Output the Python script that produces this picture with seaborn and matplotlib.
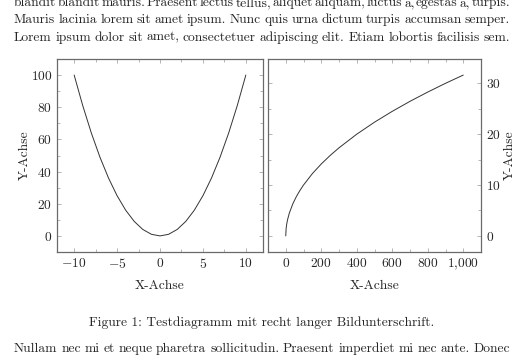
import matplotlib
matplotlib.use('Agg')
import matplotlib.pyplot as plt
import seaborn as sns
from matplotlib.ticker import MultipleLocator

# Daten
parabel_x = [-10, -9, -8, -7, -6, -5, -4, -3, -2, -1, 0, 1, 2, 3, 4, 5, 6, 7, 8, 9, 10]
parabel_y = [100, 81, 64, 49, 36, 25, 16, 9, 4, 1, 0, 1, 4, 9, 16, 25, 36, 49, 64, 81, 100]
wurzel_x = [0, 2, 5, 10, 20, 40, 60, 80, 100, 150, 200, 250, 300, 400, 500, 600, 700, 800, 900, 1000]
wurzel_y = [0, 1.41, 2.24, 3.16, 4.47, 6.32, 7.75, 8.94, 10, 12.25, 14.14, 15.81, 17.32,
            20, 22.36, 24.49, 26.46, 28.28, 30, 31.62]

links_xticks = [-10, -5, 0, 5, 10]
links_yticks = [0, 20, 40, 60, 80, 100]
rechts_xticks = [0, 200, 400, 600, 800, 1000]
rechts_xlabels = ['$0$', '$200$', '$400$', '$600$', '$800$', '$1{,}000$']
rechts_yticks = [0, 10, 20, 30]

text_oben = [
    "blandit blandit mauris. Praesent lectus tellus, aliquet aliquam, luctus a, egestas a, turpis.",
    "Mauris lacinia lorem sit amet ipsum. Nunc quis urna dictum turpis accumsan semper.",
    "Lorem ipsum dolor sit amet, consectetuer adipiscing elit. Etiam lobortis facilisis sem.",
]
text_unten = "Nullam nec mi et neque pharetra sollicitudin. Praesent imperdiet mi nec ante. Donec"
caption = "Figure 1: Testdiagramm mit recht langer Bildunterschrift."

sns.set_style("ticks")
plt.rcParams['font.family'] = ['cmr10']
plt.rcParams['mathtext.fontset'] = 'cm'
plt.rcParams['axes.unicode_minus'] = False

W, H = 523, 358
FS = 9.7
fig = plt.figure(figsize=(W / 100, H / 100), dpi=100)
fig.patch.set_facecolor('white')
renderer = fig.canvas.get_renderer()


def blocksatz(y, zeile, x0=14, x1=510):
    # Worte einzeln setzen und gleichmaessig verteilen (Blocksatz)
    worte = zeile.split()
    objs = [fig.text(0, 1 - y / H, w, fontsize=FS, va='baseline', ha='left') for w in worte]
    breiten = [o.get_window_extent(renderer).width for o in objs]
    luecke = (x1 - x0 - sum(breiten)) / (len(worte) - 1)
    x = x0
    for o, b in zip(objs, breiten):
        o.set_x(x / W)
        x += b + luecke


def achse(x0, x1, y0, y1):
    ax = fig.add_axes([x0 / W, 1 - y1 / H, (x1 - x0) / W, (y1 - y0) / H])
    return ax


def stil(ax, xticks, yticks, xminor, yminor, xlabels, ylabels):
    ax.set_xticks(xticks)
    ax.set_yticks(yticks)
    ax.set_xticklabels(xlabels)
    ax.set_yticklabels(ylabels)
    ax.xaxis.set_minor_locator(MultipleLocator(xminor))
    ax.yaxis.set_minor_locator(MultipleLocator(yminor))
    ax.tick_params(which='both', direction='in', top=True, bottom=True, left=True, right=True,
                   color='#a8a8a8', width=0.6, labelsize=FS, pad=3.5)
    ax.tick_params(which='major', length=3)
    ax.tick_params(which='minor', length=2)
    for s in ax.spines.values():
        s.set_visible(True)
        s.set_color('#6a6a6a')
        s.set_linewidth(0.9)
    ax.set_facecolor('white')


def m(v):
    return '$' + str(v) + '$'


# Achsenrahmen in Pixeln
L0, L1, R0, R1, OBEN, UNTEN = 57, 263, 268, 481, 59, 252

# linkes Diagramm
ax1 = achse(L0, L1, OBEN, UNTEN)
sns.lineplot(x=parabel_x, y=parabel_y, ax=ax1, color='#333333', linewidth=0.7)
ax1.set_xlim(-12, 12)
ax1.set_ylim(-10, 110)
stil(ax1, links_xticks, links_yticks, 2.5, 10,
     [m(v) for v in links_xticks], [m(v) for v in links_yticks])
ax1.set_xlabel('X-Achse', fontsize=FS, va='center')
ax1.set_ylabel('Y-Achse', fontsize=FS, va='center')
ax1.xaxis.set_label_coords(0.5, -(286 - UNTEN) / (UNTEN - OBEN))
ax1.yaxis.set_label_coords((25 - L0) / (L1 - L0), 0.5)

# rechtes Diagramm
ax2 = achse(R0, R1, OBEN, UNTEN)
sns.lineplot(x=wurzel_x, y=wurzel_y, ax=ax2, color='#333333', linewidth=0.7)
ax2.set_xlim(-100, 1100)
ax2.set_ylim(-3.162, 34.78)
stil(ax2, rechts_xticks, rechts_yticks, 100, 5,
     rechts_xlabels, [m(v) for v in rechts_yticks])
ax2.tick_params(labelleft=False, labelright=True)
ax2.yaxis.set_label_position('right')
ax2.set_xlabel('X-Achse', fontsize=FS, va='center')
ax2.set_ylabel('Y-Achse', fontsize=FS, va='center', rotation=90)
ax2.xaxis.set_label_coords(0.5, -(286 - UNTEN) / (UNTEN - OBEN))
ax2.yaxis.set_label_coords((510 - R0) / (R1 - R0), 0.5)

# Fliesstext oben, Bildunterschrift, Fliesstext unten
for i, z in enumerate(text_oben):
    blocksatz(6 + i * 17.3, z)
fig.text(262 / W, 1 - 326 / H, caption, fontsize=FS, ha='center', va='baseline')
blocksatz(352, text_unten)

fig.savefig('out.png', dpi=100)
